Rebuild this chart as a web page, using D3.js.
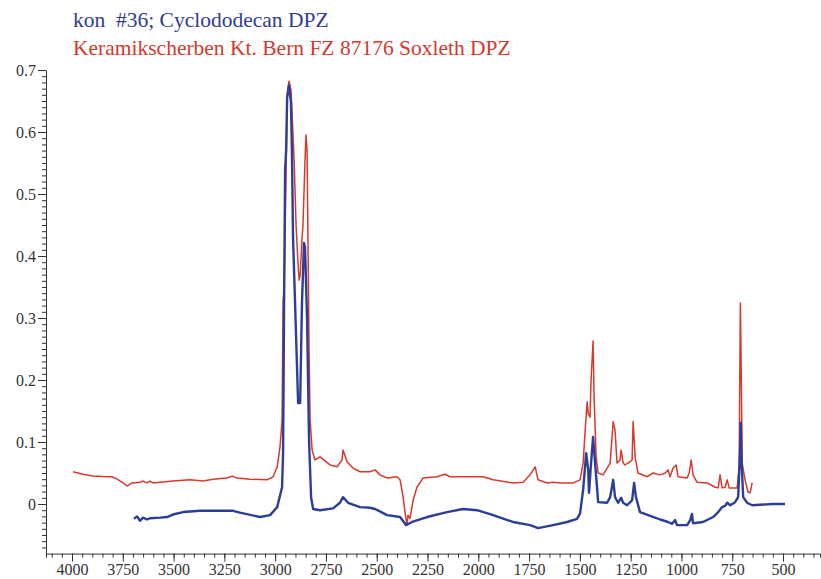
<!DOCTYPE html>
<html>
<head>
<meta charset="utf-8">
<script src="https://cdn.jsdelivr.net/npm/d3@7"></script>
<style>
  body { margin: 0; background: #fff; }
  .axis path, .axis line { stroke: #333; }
</style>
</head>
<body>
<svg id="chart" width="821" height="579"></svg>
<script>
// Legend titles, top to bottom.
var titles = ['kon  #36; Cyclododecan DPZ', 'Keramikscherben Kt. Bern FZ 87176 Soxleth DPZ'];

// Tick labels.
var xTicks = [4000, 3750, 3500, 3250, 3000, 2750, 2500, 2250, 2000, 1750, 1500, 1250, 1000, 750, 500];
var yTicks = [0, 0.1, 0.2, 0.3, 0.4, 0.5, 0.6, 0.7];

// Cyclododecan reference spectrum, [wavenumber, absorbance].
var cyclododecan = [
  [3695, -0.024], [3680, -0.020], [3665, -0.027], [3650, -0.022], [3631, -0.025],
  [3616, -0.023], [3567, -0.022], [3532, -0.021], [3503, -0.017], [3453, -0.013],
  [3370, -0.011], [3207, -0.011], [3173, -0.014], [3074, -0.021], [3025, -0.018],
  [2990, -0.005], [2966, 0.027], [2961, 0.082], [2956, 0.324], [2951, 0.539],
  [2946, 0.571], [2941, 0.655], [2932, 0.676], [2922, 0.647], [2917, 0.560],
  [2912, 0.431], [2902, 0.324], [2887, 0.163], [2877, 0.163], [2868, 0.324],
  [2858, 0.421], [2853, 0.415], [2843, 0.300], [2833, 0.100], [2823, 0.010],
  [2813, -0.008], [2779, -0.010], [2715, -0.007], [2681, 0.002], [2666, 0.011],
  [2641, 0.002], [2582, -0.005], [2533, -0.006], [2508, -0.008], [2449, -0.018],
  [2385, -0.021], [2356, -0.034], [2326, -0.029], [2252, -0.021], [2154, -0.013],
  [2075, -0.008], [2006, -0.010], [1927, -0.018], [1829, -0.029], [1745, -0.034],
  [1706, -0.039], [1632, -0.034], [1563, -0.029], [1514, -0.024], [1499, -0.015],
  [1484, 0.023], [1469, 0.082], [1459, 0.055], [1455, 0.018], [1445, 0.066],
  [1435, 0.108], [1425, 0.066], [1410, 0.003], [1366, 0.002], [1351, 0.011],
  [1336, 0.039], [1327, 0.011], [1312, 0.002], [1297, 0.010], [1287, 0.002],
  [1268, -0.002], [1243, 0.006], [1233, 0.034], [1224, 0.011], [1204, -0.013],
  [1154, -0.019], [1105, -0.025], [1066, -0.029], [1046, -0.032], [1031, -0.026],
  [1022, -0.034], [972, -0.034], [957, -0.026], [948, -0.016], [943, -0.031],
  [894, -0.029], [844, -0.021], [819, -0.013], [800, -0.005], [785, -0.003],
  [775, 0.002], [760, -0.002], [736, 0.003], [721, 0.011], [712, 0.080],
  [708, 0.131], [703, 0.060], [696, 0.011], [677, 0.002], [652, -0.002],
  [549, 0.000], [490, 0.000]
];

// Ceramic shard Soxhlet extract spectrum, [wavenumber, absorbance].
var keramik = [
  [3995, 0.052], [3946, 0.048], [3897, 0.045], [3828, 0.044], [3803, 0.044],
  [3778, 0.040], [3749, 0.034], [3729, 0.029], [3705, 0.034], [3665, 0.035],
  [3650, 0.037], [3631, 0.034], [3616, 0.037], [3601, 0.034], [3567, 0.035],
  [3503, 0.037], [3419, 0.039], [3355, 0.037], [3306, 0.040], [3237, 0.042],
  [3212, 0.045], [3188, 0.042], [3124, 0.040], [3040, 0.039], [3010, 0.044],
  [2990, 0.060], [2976, 0.092], [2966, 0.135], [2961, 0.329], [2956, 0.345],
  [2946, 0.539], [2941, 0.660], [2932, 0.682], [2922, 0.668], [2912, 0.595],
  [2907, 0.558], [2897, 0.450], [2887, 0.385], [2882, 0.361], [2877, 0.369],
  [2868, 0.426], [2863, 0.450], [2853, 0.555], [2848, 0.595], [2843, 0.571],
  [2838, 0.410], [2833, 0.248], [2828, 0.135], [2818, 0.087], [2804, 0.071],
  [2779, 0.076], [2730, 0.063], [2695, 0.060], [2671, 0.071], [2666, 0.087],
  [2646, 0.068], [2617, 0.058], [2582, 0.052], [2533, 0.052], [2508, 0.055],
  [2484, 0.047], [2449, 0.042], [2400, 0.044], [2385, 0.039], [2370, 0.011],
  [2360, -0.015], [2351, -0.034], [2346, -0.018], [2336, -0.023], [2321, 0.006],
  [2302, 0.027], [2272, 0.042], [2203, 0.044], [2164, 0.048], [2139, 0.044],
  [2075, 0.044], [1976, 0.044], [1927, 0.039], [1829, 0.034], [1779, 0.035],
  [1745, 0.047], [1720, 0.060], [1706, 0.039], [1661, 0.034], [1632, 0.035],
  [1597, 0.034], [1533, 0.034], [1499, 0.039], [1484, 0.066], [1474, 0.119],
  [1464, 0.165], [1459, 0.147], [1450, 0.140], [1445, 0.200], [1435, 0.263],
  [1430, 0.173], [1420, 0.076], [1410, 0.050], [1386, 0.047], [1351, 0.066],
  [1336, 0.133], [1327, 0.119], [1317, 0.066], [1302, 0.071], [1297, 0.087],
  [1287, 0.066], [1278, 0.063], [1263, 0.066], [1243, 0.071], [1238, 0.133],
  [1228, 0.076], [1214, 0.050], [1169, 0.044], [1140, 0.050], [1105, 0.047],
  [1080, 0.050], [1066, 0.055], [1056, 0.044], [1041, 0.058], [1026, 0.063],
  [1017, 0.044], [972, 0.042], [962, 0.050], [952, 0.071], [943, 0.047],
  [923, 0.035], [874, 0.034], [834, 0.027], [819, 0.026], [810, 0.047],
  [800, 0.026], [785, 0.027], [775, 0.039], [765, 0.026], [726, 0.026],
  [716, 0.060], [713, 0.200], [710, 0.324], [707, 0.250], [701, 0.066],
  [687, 0.039], [672, 0.019], [662, 0.018], [652, 0.034]
];

var svg = d3.select('#chart');
var serif = '"Liberation Serif", "DejaVu Serif", serif';
var margin = {left: 46, right: 1, top: 70, bottom: 25};
var width = 821;
var height = 579;

var x = d3.scaleLinear()
    .domain([4128, 318])
    .range([margin.left, width - margin.right]);

var y = d3.scaleLinear()
    .domain([-0.08, 0.7])
    .range([height - margin.bottom - 0.4, margin.top]);

// Minor ticks every 50 cm-1 and every 0.01.
var xMinor = d3.range(4100, 300, -50);
var yMinor = d3.range(-7, 71).map(function(i) {return i / 100;});

var xAxisG = svg.append('g')
    .attr('class', 'axis')
    .attr('transform', 'translate(0,' + y(-0.08) + ')');

xAxisG.call(d3.axisBottom(x).tickValues(xMinor).tickSize(4).tickFormat(''));
xAxisG.append('g')
    .call(d3.axisBottom(x).tickValues(xTicks).tickSize(8).tickSizeOuter(0).tickPadding(2)
        .tickFormat(d3.format('d')))
    .call(function(g) {g.select('.domain').remove();});

var yAxisG = svg.append('g')
    .attr('class', 'axis')
    .attr('transform', 'translate(' + x.range()[0] + ',0)');

yAxisG.call(d3.axisLeft(y).tickValues(yMinor).tickSize(4).tickSizeOuter(0).tickFormat(''));
yAxisG.append('g')
    .call(d3.axisLeft(y).tickValues(yTicks).tickSize(8).tickSizeOuter(0).tickPadding(2)
        .tickFormat(function(d) {return d === 0 ? '0' : d3.format('.1f')(d);}))
    .call(function(g) {g.select('.domain').remove();});

// Serif tick labels, as in the original plot.
svg.selectAll('.axis text')
    .attr('font-family', serif)
    .attr('font-size', 16)
    .attr('fill', '#333');

var line = d3.line()
    .x(function(d) {return x(d[0]);})
    .y(function(d) {return y(d[1]);});

svg.append('path')
    .datum(keramik)
    .attr('d', line)
    .attr('fill', 'none')
    .attr('stroke', '#d9392b')
    .attr('stroke-width', 1.5)
    .attr('stroke-linejoin', 'round');

svg.append('path')
    .datum(cyclododecan)
    .attr('d', line)
    .attr('fill', 'none')
    .attr('stroke', '#2c3e98')
    .attr('stroke-width', 2.4)
    .attr('stroke-linejoin', 'round');

// Titles in the series colours.
var titleColours = ['#2f3d92', '#d13a2c'];
svg.selectAll('text.title')
    .data(titles)
    .enter()
    .append('text')
        .attr('class', 'title')
        .attr('x', 73)
        .attr('y', function(d, i) {return 27 + i * 28;})
        .attr('fill', function(d, i) {return titleColours[i];})
        .style('font-family', serif)
        .style('font-size', '21.5px')
        .style('white-space', 'pre')
        .text(function(d) {return d;});
</script>
</body>
</html>
